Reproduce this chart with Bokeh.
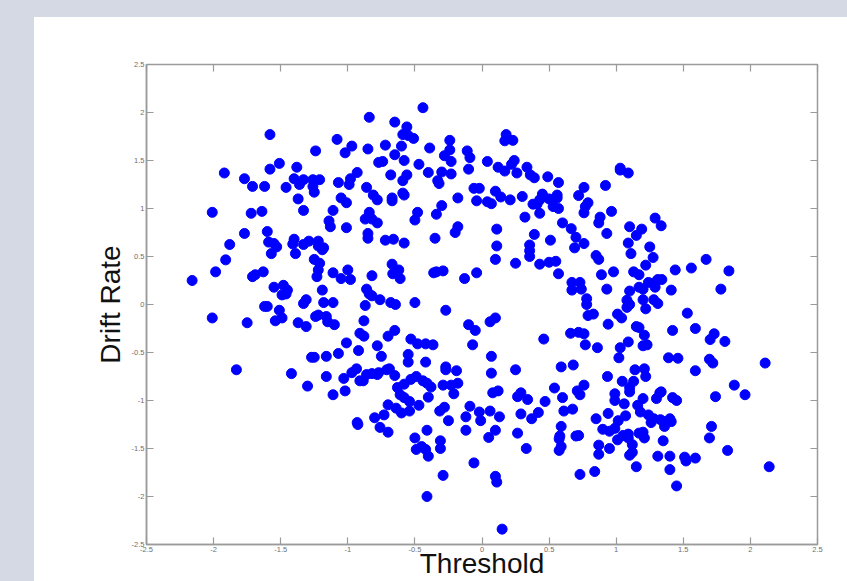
from bokeh.plotting import figure
from bokeh.models import LinearAxis, FixedTicker, Div, Range1d, ColumnDataSource
from bokeh.layouts import column, row
from bokeh.embed import file_html
from bokeh.resources import INLINE

# ---- data ----
threshold_upper_left = [
    -0.44, -0.84, -0.65, -0.56, -1.58, -0.59, -0.55, -0.51, -1.08, -0.24,
    -0.97, -0.85, -0.72, -0.60, -0.39, -0.24, -0.11, -1.24, -1.02, -0.65,
    -0.28, -0.09, -0.58, -0.23, -0.77, -0.74, 0.04, -1.51, -0.47, -1.38,
    -1.58, -0.10, -1.92, -0.93, -0.40, -0.30, -0.23, -0.68, -0.56, -1.77,
    -1.40, -1.33, -1.26, -1.21, -1.36, -1.07, -0.98, -0.99, -0.59, -0.33,
    -0.32, -1.71, -1.62, -1.46, -1.26, -1.25, -0.86, -0.06, -0.02, -0.81,
    -0.78, -0.59, -0.58, -0.67, -0.67, -1.05, -1.01, -1.37, -0.18, -0.04,
    0.04, -0.30, -1.33, -1.11, -2.01, -1.72, -1.64, -0.84, -0.48, -0.34,
    -0.87, -0.82, -0.78, -1.14, -1.13, -0.50, -1.01, -0.18, -0.20, -1.77,
    -1.60, -0.85, -0.85, -0.72, -0.66, -0.35, -0.58, -1.88, -1.59, -1.55,
    -1.53, -1.40, -1.41, -1.33, -1.29, -1.22, -1.22, -1.18, -1.19, -1.57,
    -1.39, -1.91, -1.25, -1.21, -1.22, -0.67, -0.62, -0.665, -1.11, -1.05,
    -1.00, -0.98, -0.82, -1.23, -0.61, -0.36, -0.34, -0.29, -0.13, -0.04,
    -2.16, -1.985, -1.71, -1.69, -1.63, -1.55, -1.48, -1.45, -1.49, -1.46,
    -1.19, -0.86, -0.84, -0.82, -0.76, -0.68, -0.645, -0.50, -1.31, -1.33,
    -1.18, -1.11, -0.87, -1.62, -1.60, -1.51, -0.27,
]
drift_upper_left = [
    2.05, 1.95, 1.90, 1.85, 1.77, 1.77, 1.76, 1.73, 1.72, 1.71,
    1.65, 1.62, 1.66, 1.65, 1.63, 1.61, 1.60, 1.60, 1.58, 1.56,
    1.55, 1.53, 1.50, 1.49, 1.48, 1.49, 1.49, 1.47, 1.46, 1.43,
    1.41, 1.41, 1.37, 1.375, 1.375, 1.38, 1.36, 1.35, 1.35, 1.31,
    1.31, 1.30, 1.30, 1.30, 1.25, 1.27, 1.31, 1.25, 1.29, 1.29,
    1.26, 1.23, 1.23, 1.22, 1.23, 1.17, 1.22, 1.21, 1.21, 1.14,
    1.09, 1.16, 1.14, 1.11, 1.08, 1.11, 1.06, 1.10, 1.11, 1.08,
    1.07, 1.03, 0.98, 0.98, 0.96, 0.95, 0.97, 0.96, 0.96, 0.94,
    0.89, 0.89, 0.85, 0.87, 0.81, 0.88, 0.80, 0.81, 0.75, 0.74,
    0.76, 0.74, 0.69, 0.67, 0.68, 0.69, 0.64, 0.625, 0.65, 0.635,
    0.60, 0.68, 0.63, 0.625, 0.66, 0.66, 0.61, 0.59, 0.57, 0.53,
    0.53, 0.465, 0.47, 0.43, 0.36, 0.42, 0.36, 0.32, 0.33, 0.27,
    0.36, 0.26, 0.30, 0.29, 0.27, 0.33, 0.34, 0.35, 0.27, 0.33,
    0.25, 0.34, 0.29, 0.31, 0.34, 0.18, 0.20, 0.15, 0.10, 0.11,
    0.15, 0.16, 0.11, 0.09, 0.05, 0.02, 0.00, 0.02, 0.05, 0.01,
    0.02, 0.02, -0.01, -0.02, -0.02, -0.06, -0.06,
]
threshold_lower_left = [
    -1.49, -1.54, -2.01, -1.75, -1.37, -1.31, -1.24, -1.22, -1.16, -1.15,
    -1.10, -0.88, -0.10, -0.05, -0.91, -0.88, -0.65, -0.70, -1.01, -0.78,
    -0.53, -0.48, -0.42, -0.365, -0.07, -0.92, -1.27, -1.25, -1.16, -1.07,
    -0.75, -0.55, -0.55, -0.42, -1.83, -1.42, -1.16, -1.03, -0.97, -0.935,
    -0.91, -0.885, -0.86, -0.82, -0.78, -0.77, -0.71, -0.69, -0.65, -0.27,
    -0.27, -0.19, -0.49, -0.53, -0.58, -0.44, -0.38, -0.41, -0.63, -0.61,
    -0.58, -0.54, -0.47, -0.40, -0.29, -0.23, -0.18, -0.21, -1.30, -1.11,
    -1.02, -0.70, -0.64, -0.60, -0.54, -0.73, -0.80, -0.315, -0.28, -0.25,
    -0.09, -0.02, -0.12, -0.01, -0.93, -0.925, -0.76, -0.70, -0.41, -0.12,
    -0.50, -0.49, -0.45, -0.42, -0.40, -0.31, -0.31, -0.06, -0.29, -0.41,
]
drift_lower_left = [
    -0.14, -0.17, -0.14, -0.19, -0.19, -0.23, -0.125, -0.11, -0.125, -0.18,
    -0.21, -0.17, -0.21, -0.27, -0.30, -0.33, -0.27, -0.33, -0.40, -0.43,
    -0.36, -0.41, -0.41, -0.42, -0.42, -0.48, -0.55, -0.55, -0.54, -0.51,
    -0.54, -0.52, -0.60, -0.60, -0.68, -0.72, -0.75, -0.77, -0.71, -0.67,
    -0.795, -0.795, -0.73, -0.72, -0.73, -0.71, -0.68, -0.67, -0.74, -0.65,
    -0.68, -0.69, -0.75, -0.78, -0.83, -0.795, -0.86, -0.82, -0.865, -0.94,
    -0.97, -1.01, -1.05, -0.965, -0.84, -0.84, -0.82, -0.93, -0.85, -0.94,
    -0.90, -1.045, -1.08, -1.13, -1.11, -1.15, -1.18, -1.11, -1.07, -1.21,
    -1.06, -1.12, -1.17, -1.21, -1.23, -1.25, -1.28, -1.33, -1.31, -1.31,
    -1.39, -1.51, -1.48, -1.51, -1.58, -1.42, -1.50, -1.65, -1.78, -2.00,
]
threshold_upper_right = [
    0.18, 0.17, 0.23, 0.12, 0.17, 0.24, 0.22, 0.26, 0.335, 0.36,
    0.39, 0.49, 0.57, 1.03, 1.03, 1.09, 0.76, 0.92, 0.10, 0.14,
    0.07, 0.21, 0.30, 0.45, 0.43, 0.38, 0.41, 0.50, 0.43, 0.56,
    0.56, 0.53, 0.57, 0.72, 0.79, 0.77, 0.76, 0.965, 0.88, 0.87,
    0.32, 0.60, 0.665, 0.70, 0.69, 0.76, 0.93, 0.11, 0.39, 0.51,
    0.355, 0.355, 0.355, 0.11, 0.10, 0.25, 0.43, 0.50, 0.55, 0.57,
    0.85, 0.87, 1.10, 1.19, 1.15, 1.09, 1.11, 1.29, 1.335, 1.25,
    1.275, 1.22, 1.13, 1.17, 0.89, 0.98, 1.44, 1.56, 1.67, 1.84,
    1.78, 0.67, 0.73, 0.67, 0.74, 0.93, 0.78, 1.08, 1.10, 1.17,
    1.20, 1.24, 1.29, 1.31, 1.34, 1.29, 1.20, 1.28, 1.41,
]
drift_upper_right = [
    1.77, 1.705, 1.71, 1.43, 1.39, 1.50, 1.46, 1.37, 1.43, 1.35,
    1.32, 1.33, 1.27, 1.42, 1.40, 1.37, 1.22, 1.24, 1.18, 1.12,
    1.05, 1.09, 1.125, 1.15, 1.09, 1.045, 1.045, 1.10, 0.95, 1.14,
    1.11, 1.02, 1.00, 1.135, 1.06, 1.02, 0.955, 0.97, 0.91, 0.85,
    0.91, 0.85, 0.79, 0.70, 0.59, 0.635, 0.74, 0.785, 0.73, 0.67,
    0.62, 0.56, 0.50, 0.61, 0.47, 0.43, 0.42, 0.44, 0.45, 0.32,
    0.51, 0.47, 0.81, 0.785, 0.72, 0.64, 0.53, 0.90, 0.82, 0.60,
    0.49, 0.41, 0.34, 0.31, 0.31, 0.34, 0.36, 0.38, 0.47, 0.35,
    0.16, 0.23, 0.23, 0.15, 0.16, 0.16, 0.06, 0.045, 0.14, 0.18,
    0.16, 0.23, 0.23, 0.26, 0.26, 0.18, 0.05, 0.05, 0.15,
]
threshold_lower_right = [
    0.78, 0.83, 0.79, 1.01, 1.04, 1.08, 1.10, 1.22, 1.31, 1.53,
    0.06, 0.10, 0.94, 1.59, 1.42, 1.15, 1.17, 1.21, 1.20, 1.23,
    1.09, 1.03, 0.86, 0.77, 0.66, 0.72, 0.76, 0.46, 1.70, 1.73,
    1.81, 0.07, 1.02, 1.39, 1.46, 1.695, 1.72, 2.11, 0.68, 0.59,
    0.25, 0.07, 1.59, 1.14, 1.21, 1.22, 0.935, 1.045, 1.13, 1.10,
    1.10, 0.76, 0.71, 0.73, 0.54, 0.08, 0.12, 0.265, 0.29, 0.34,
    0.47, 0.60, 0.99, 0.99, 1.06, 1.20, 1.30, 1.325, 1.335, 1.42,
    1.45, 1.74, 1.88, 1.96, 0.06, 0.13, 0.29, 0.37, 0.42, 0.61,
    0.675, 0.94, 0.85, 1.015, 1.07, 1.16, 1.18, 1.24, 1.28, 1.26,
    1.33, 1.37, 1.40, 1.41, 1.36, 0.59, 0.90, 0.95, 0.99, 0.10,
    0.05, 0.265, 0.58, 0.575, 0.59, 0.575, 0.70, 0.72, 1.01, 1.05,
    1.09, 1.09, 1.12, 1.12, 1.10, 1.20, 1.21, 1.17, 0.87, 0.95,
    0.87, 0.33, 1.35, 1.71, 1.695, 1.83, 1.31, 1.40, 1.51, 1.52,
    1.59, 1.15, 1.40, 1.45, 0.73, 0.84, 0.10, 0.11, 2.14, 0.15,
]
drift_lower_right = [
    0.00, -0.10, -0.115, -0.10, -0.14, -0.03, 0.00, -0.045, 0.01, -0.09,
    -0.18, -0.14, -0.205, -0.25, -0.27, -0.23, -0.24, -0.32, -0.43, -0.42,
    -0.39, -0.45, -0.45, -0.42, -0.30, -0.29, -0.305, -0.36, -0.365, -0.305,
    -0.385, -0.54, -0.555, -0.555, -0.56, -0.57, -0.61, -0.61, -0.63, -0.65,
    -0.68, -0.715, -0.69, -0.68, -0.67, -0.75, -0.75, -0.80, -0.80, -0.865,
    -0.91, -0.84, -0.90, -0.94, -0.87, -0.92, -0.90, -0.96, -0.92, -0.99,
    -1.01, -0.97, -0.93, -1.00, -1.035, -0.98, -0.98, -0.92, -0.91, -0.97,
    -1.00, -0.96, -0.84, -0.94, -1.11, -1.17, -1.14, -1.19, -1.125, -1.11,
    -1.09, -1.135, -1.19, -1.21, -1.16, -1.05, -1.12, -1.15, -1.19, -1.23,
    -1.20, -1.22, -1.19, -1.22, -1.27, -1.27, -1.30, -1.32, -1.29, -1.31,
    -1.385, -1.34, -1.37, -1.40, -1.48, -1.52, -1.37, -1.365, -1.41, -1.365,
    -1.35, -1.39, -1.46, -1.54, -1.57, -1.33, -1.39, -1.34, -1.465, -1.50,
    -1.56, -1.50, -1.42, -1.27, -1.39, -1.52, -1.58, -1.58, -1.59, -1.63,
    -1.60, -1.69, -1.72, -1.89, -1.77, -1.74, -1.79, -1.85, -1.69, -2.34,
]
tick_values = [-2.5, -2.0, -1.5, -1.0, -0.5, 0.0, 0.5, 1.0, 1.5, 2.0, 2.5]
tick_labels = ["-2.5", "-2", "-1.5", "-1", "-0.5", "0", "0.5", "1", "1.5", "2", "2.5"]
x_label = "Threshold"
y_label = "Drift Rate"

# ---- styling ----
BG = "#D5D9E3"
AXIS = "#9a9a9a"
DOT = "#0000FF"

threshold = threshold_upper_left + threshold_lower_left + threshold_upper_right + threshold_lower_right
drift = drift_upper_left + drift_lower_left + drift_upper_right + drift_lower_right
src = ColumnDataSource(data=dict(threshold=threshold, drift=drift))

p = figure(width=813, height=564, x_range=Range1d(-2.5, 2.5), y_range=Range1d(-2.5, 2.5),
           output_backend="svg", toolbar_location=None,
           min_border_left=112, min_border_right=30, min_border_top=47, min_border_bottom=37,
           x_axis_label=x_label, y_axis_label=y_label,
           background_fill_color="white", border_fill_color="white")
p.grid.visible = False
p.outline_line_color = AXIS
p.outline_line_width = 1.5

overrides = dict(zip(tick_values, tick_labels))
for ax in (p.xaxis[0], p.yaxis[0]):
    ax.ticker = FixedTicker(ticks=tick_values)
    ax.major_label_overrides = overrides
    ax.major_tick_in = 7
    ax.major_tick_out = 0
    ax.minor_tick_line_color = None
    ax.axis_line_color = AXIS
    ax.axis_line_width = 1.5
    ax.major_tick_line_color = AXIS
    ax.major_tick_line_width = 1.2
    ax.major_label_text_font = "Liberation Sans"
    ax.major_label_text_font_size = "7.5px"
    ax.major_label_text_color = "#6e6e6e"
    ax.major_label_standoff = 2
    ax.axis_label_text_font = "Liberation Sans"
    ax.axis_label_text_font_size = "28px"
    ax.axis_label_text_font_style = "normal"
    ax.axis_label_text_color = "#111111"
p.xaxis[0].axis_label_standoff = -7
p.yaxis[0].axis_label_standoff = 3

for loc in ("right", "above"):
    extra = LinearAxis(ticker=FixedTicker(ticks=tick_values), major_tick_in=7, major_tick_out=0,
                       axis_line_color=None, major_tick_line_color=AXIS, major_tick_line_width=1.2,
                       minor_tick_line_color=None, major_label_text_color=None)
    p.add_layout(extra, loc)

p.scatter("threshold", "drift", source=src, size=10, fill_color=DOT, line_color=DOT)

top_band = Div(text="", width=847, height=17, margin=0, styles={"background-color": BG})
left_band = Div(text="", width=34, height=564, margin=0, styles={"background-color": BG})
layout = column(top_band, row(left_band, p, spacing=0), spacing=0)

open("out.html", "w").write(file_html(layout, INLINE))
